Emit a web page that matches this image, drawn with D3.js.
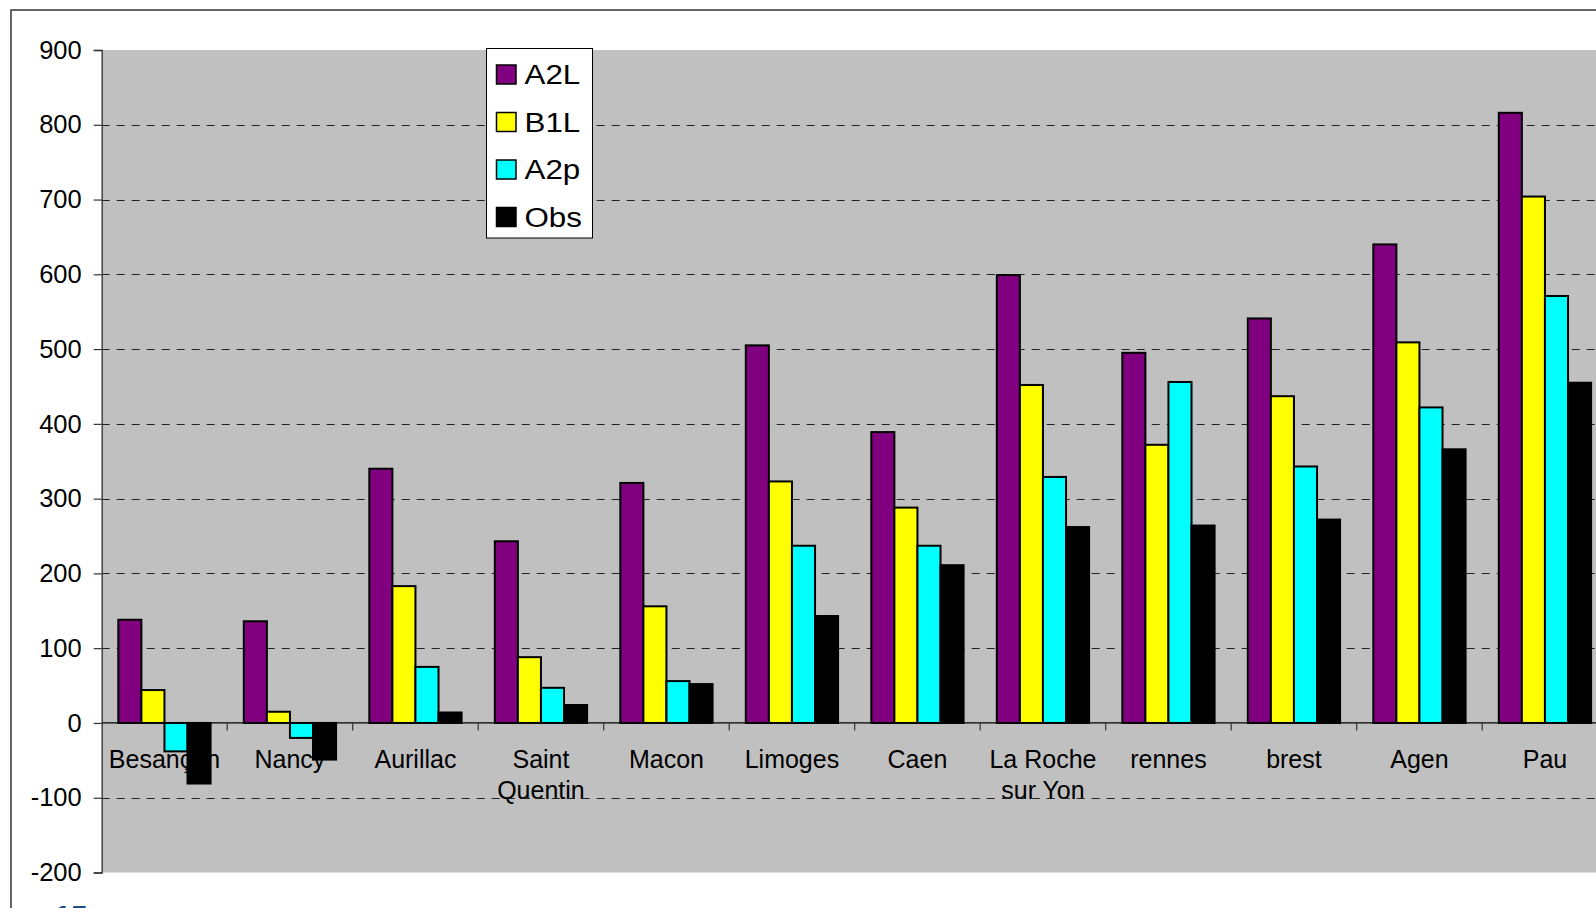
<!DOCTYPE html>
<html>
<head>
<meta charset="utf-8">
<script src="https://cdn.jsdelivr.net/npm/d3@7"></script>
<style>
  html, body { margin: 0; padding: 0; background: #fff; overflow: hidden; }
  svg { display: block; font-family: "Liberation Sans", Arial, sans-serif; }
</style>
</head>
<body>
<svg id="chart" width="1596" height="908"></svg>
<script>
// ---- data ----
const categories = ["Besançon", "Nancy", "Aurillac", "Saint Quentin", "Macon", "Limoges",
  "Caen", "La Roche sur Yon", "rennes", "brest", "Agen", "Pau"];
const seriesNames = ["A2L", "B1L", "A2p", "Obs"];
const seriesColors = ["#800080", "#FFFF00", "#00FFFF", "#000000"];
const A2L = [138, 136, 340, 243, 321, 505, 389, 599, 495, 541, 640, 816];
const B1L = [44, 15, 183, 88, 156, 323, 288, 452, 372, 437, 509, 704];
const A2p = [-38, -20, 75, 47, 56, 237, 237, 329, 456, 343, 422, 571];
const Obs = [-81, -49, 14, 24, 52, 143, 211, 262, 264, 272, 366, 455];
const yTicks = [-200, -100, 0, 100, 200, 300, 400, 500, 600, 700, 800, 900];
const footerText = "15";

const seriesValues = [A2L, B1L, A2p, Obs];

// ---- layout ----
const svg = d3.select("#chart");
const plotLeft = 101.7, plotTop = 50, plotBottom = 872.5, bandW = 125.5;
const plotRight = plotLeft + bandW * categories.length;

// outer frame
svg.append("rect")
  .attr("x", 11).attr("y", 10).attr("width", 1700).attr("height", 1000)
  .attr("fill", "#fff").attr("stroke", "#333").attr("stroke-width", 1.5);

const y = d3.scaleLinear().domain([-200, 900]).range([plotBottom, plotTop]);
const x = d3.scaleBand().domain(categories).range([plotLeft, plotRight]).padding(0);
const xs = d3.scaleBand().domain(seriesNames)
  .range([0, bandW]).paddingInner(0).paddingOuter(0.72);

// plot background
svg.append("rect")
  .attr("x", plotLeft).attr("y", plotTop)
  .attr("width", plotRight - plotLeft).attr("height", plotBottom - plotTop)
  .attr("fill", "#C0C0C0");

// category labels (drawn beneath bars, as in the reference)
const labG = svg.append("g");
categories.forEach(c => {
  const t = labG.append("text")
    .attr("x", x(c) + bandW / 2).attr("y", 767.7)
    .attr("text-anchor", "middle")
    .attr("font-size", 25).attr("fill", "#000");
  const words = c.split(" ");
  let lines = [], line = [];
  const probe = labG.append("text").attr("font-size", 25);
  words.forEach(w => {
    const test = line.concat([w]).join(" ");
    probe.text(test);
    if (probe.node().getComputedTextLength() > 118 && line.length) {
      lines.push(line.join(" "));
      line = [w];
    } else line.push(w);
  });
  lines.push(line.join(" "));
  probe.remove();
  lines.forEach((l, i) => {
    t.append("tspan").attr("x", x(c) + bandW / 2).attr("dy", i === 0 ? 0 : 31.6).text(l);
  });
});

// gridlines
const grid = svg.append("g");
yTicks.filter(v => v !== 0 && v !== -200 && v !== 900).forEach(v => {
  grid.append("line")
    .attr("x1", plotLeft).attr("x2", plotRight)
    .attr("y1", Math.round(y(v)) + 0.5).attr("y2", Math.round(y(v)) + 0.5)
    .attr("stroke", "#222").attr("stroke-width", 1.2)
    .attr("stroke-dasharray", "8,7");
});

// bars
const barsG = svg.append("g");
seriesNames.forEach((s, si) => {
  barsG.selectAll(null)
    .data(categories.map((c, i) => ({ c, v: seriesValues[si][i] })))
    .enter().append("rect")
    .attr("x", d => x(d.c) + xs(s))
    .attr("width", xs.bandwidth())
    .attr("y", d => y(Math.max(0, d.v)))
    .attr("height", d => Math.abs(y(d.v) - y(0)))
    .attr("fill", seriesColors[si])
    .attr("stroke", "#000").attr("stroke-width", 2);
});

// zero line (category axis)
svg.append("line")
  .attr("x1", plotLeft).attr("x2", plotRight)
  .attr("y1", y(0)).attr("y2", y(0))
  .attr("stroke", "#000").attr("stroke-width", 1.3);
categories.forEach((c, i) => {
  if (i === 0) return;
  svg.append("line")
    .attr("x1", x(c)).attr("x2", x(c))
    .attr("y1", y(0)).attr("y2", y(0) + 7.5)
    .attr("stroke", "#333").attr("stroke-width", 1.2);
});

// y axis
const yAxis = d3.axisLeft(y).tickValues(yTicks).tickSize(8).tickPadding(12)
  .tickFormat(d => String(d));
const yg = svg.append("g").attr("transform", `translate(${plotLeft},0)`).call(yAxis);
yg.select(".domain").attr("stroke", "#333").attr("stroke-width", 1.3);
yg.selectAll(".tick line").attr("stroke", "#333").attr("stroke-width", 1.2);
yg.selectAll(".tick text").attr("font-size", 25.5).attr("fill", "#000")
  .attr("font-family", "Liberation Sans, Arial, sans-serif");

// legend
const lg = svg.append("g");
lg.append("rect").attr("x", 486.5).attr("y", 48.5).attr("width", 106).attr("height", 189.5)
  .attr("fill", "#fff").attr("stroke", "#000").attr("stroke-width", 1);
seriesNames.forEach((s, i) => {
  const cy = 74.5 + i * 47.5;
  lg.append("rect").attr("x", 496.5).attr("y", cy - 9.5).attr("width", 19.5).attr("height", 19)
    .attr("fill", seriesColors[i]).attr("stroke", "#000").attr("stroke-width", 1.5);
  const t = lg.append("text").attr("x", 524.5).attr("y", cy + 9.5)
    .attr("font-size", 27).attr("fill", "#000").text(s);
  const len = t.node().getComputedTextLength();
  t.attr("textLength", len * 1.16).attr("lengthAdjust", "spacingAndGlyphs");
});

// footer text, cut by the bottom edge as in the reference
svg.append("text").attr("x", 52).attr("y", 926)
  .attr("font-size", 30).attr("font-weight", "bold").attr("font-style", "italic")
  .attr("fill", "#1f4e8c").text(footerText);
</script>
</body>
</html>
